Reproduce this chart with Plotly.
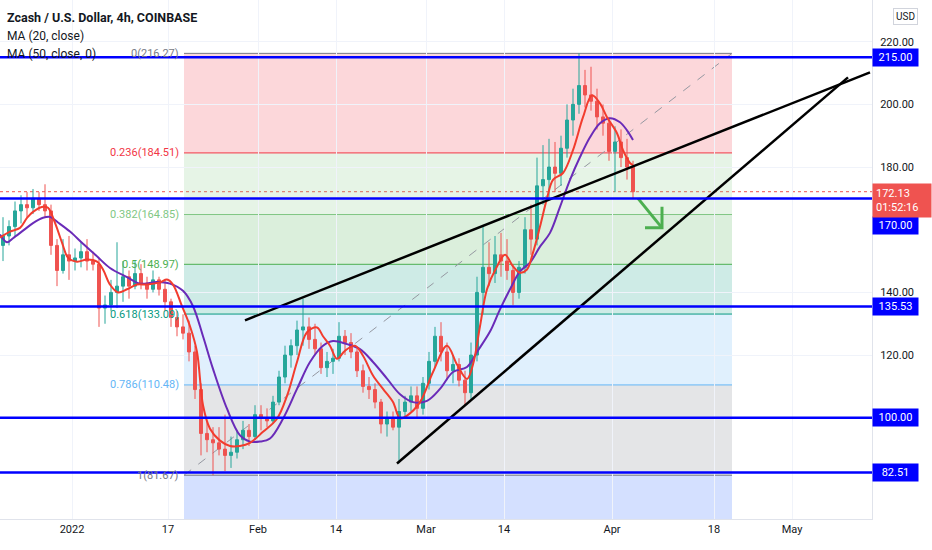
import plotly.graph_objects as go
import pandas as pd

# ZEC/USD, one candle per day (Dec 20 2021 -> Apr 4 2022)
candle_start = "2021-12-20 12:00"
opens = [155, 158, 161, 166, 168, 167, 170, 168, 166, 155, 147, 152,
         150, 151, 153, 150, 149, 135, 136, 140, 142, 145, 142, 146, 143, 141, 144, 141, 137, 132, 129, 127,
         121, 109, 95, 93, 92, 90, 88, 89, 93, 96, 94,
         101, 100, 99, 105, 113, 120, 123, 128, 129, 125, 122, 116, 118, 119, 126, 124, 121, 115, 110, 109,
         105, 98, 100, 97, 102, 105, 107, 103,
         111, 118, 126, 121, 115, 117, 112, 108, 120, 140, 148, 146, 152, 150, 147, 140, 148, 160, 157, 174,
         176, 180, 178, 186, 195, 200, 206, 203, 201, 196, 194,
         185, 188, 183, 180]
highs = [164, 163, 169, 171, 172, 173, 172, 174.5, 168, 157, 157, 158,
         154, 156, 157, 153, 151, 139, 144, 156, 150, 147, 150, 149, 145, 147, 145, 144, 138, 134, 133, 131,
         123, 111, 99, 97, 97, 101, 94, 96, 99, 98, 104,
         104, 103, 107, 115, 123, 125, 131, 138, 132, 130, 124, 121, 122, 130.5, 128, 127, 122, 117, 113, 111,
         106, 102, 102, 106, 107, 110, 110, 113,
         121, 129, 130.5, 124, 120, 119, 115, 124, 145, 161, 156, 158, 159, 157, 149, 150, 164, 168, 183, 187,
         189, 188, 190, 200, 205, 216.27, 211, 212, 205, 200, 196,
         193, 192, 189, 182]
lows = [150, 155, 158, 162, 164, 165, 166, 164, 152, 142, 146, 144,
        147, 148, 147, 147, 129, 130, 134, 135, 137, 138, 141, 141, 138, 140, 139, 134, 129, 126, 125, 118,
        106, 88, 89, 81.67, 88, 83, 84, 87, 90, 91, 93,
        96, 97, 98, 104, 111, 116, 120, 123, 122, 120, 114, 113, 114, 118, 120, 119, 113, 108, 106, 103,
        95, 94, 96, 85.5, 100, 102, 100, 101,
        109, 116, 118, 112, 111, 110, 104, 106, 118, 133, 142, 143, 145, 144, 136, 138, 146, 152, 155, 168,
        170, 172, 174, 183, 190, 197, 199, 198, 192, 190, 182,
        172, 180, 176, 170]
closes = [158, 161, 166, 168, 167, 170, 168, 166, 155, 147, 152, 150,
          151, 153, 150, 149, 135, 136, 140, 142, 145, 142, 146, 143, 141, 144, 141, 137, 132, 129, 127, 121,
          109, 95, 93, 92, 90, 88, 89, 93, 96, 94, 101,
          100, 99, 105, 113, 120, 123, 128, 129, 125, 122, 116, 118, 119, 126, 124, 121, 115, 110, 109, 105,
          98, 100, 97, 102, 105, 107, 103, 111,
          118, 126, 121, 115, 117, 112, 108, 120, 140, 148, 146, 152, 150, 147, 140, 148, 160, 157, 174, 176,
          180, 178, 186, 195, 200, 206, 203, 201, 196, 194, 185,
          188, 183, 180, 172.13]

# MA (20, close) - red line, sampled along the picture
ma20_dates = ["2021-12-20 00:00", "2021-12-21 16:00", "2021-12-23 08:00", "2021-12-24 12:00", "2021-12-25 12:00",
              "2021-12-27 04:00", "2021-12-28 00:00", "2021-12-29 04:00", "2021-12-30 08:00", "2021-12-31 08:00",
              "2022-01-01 20:00", "2022-01-03 12:00", "2022-01-05 04:00", "2022-01-06 04:00", "2022-01-07 08:00",
              "2022-01-08 16:00", "2022-01-10 04:00", "2022-01-11 20:00", "2022-01-13 12:00", "2022-01-15 16:00",
              "2022-01-16 20:00", "2022-01-17 20:00", "2022-01-19 08:00", "2022-01-20 16:00", "2022-01-21 20:00",
              "2022-01-22 20:00", "2022-01-24 00:00", "2022-01-25 16:00", "2022-01-27 08:00", "2022-01-29 00:00",
              "2022-01-30 16:00", "2022-02-01 20:00", "2022-02-04 04:00", "2022-02-05 20:00", "2022-02-07 12:00",
              "2022-02-09 04:00", "2022-02-10 20:00", "2022-02-11 20:00", "2022-02-13 00:00", "2022-02-14 04:00",
              "2022-02-15 12:00", "2022-02-17 04:00", "2022-02-18 12:00", "2022-02-20 04:00", "2022-02-21 20:00",
              "2022-02-23 12:00", "2022-02-24 16:00", "2022-02-25 20:00", "2022-02-28 00:00", "2022-03-02 04:00",
              "2022-03-04 12:00", "2022-03-06 04:00", "2022-03-07 20:00", "2022-03-08 20:00", "2022-03-10 00:00",
              "2022-03-11 04:00", "2022-03-12 20:00", "2022-03-14 04:00", "2022-03-15 12:00", "2022-03-16 16:00",
              "2022-03-17 20:00", "2022-03-18 20:00", "2022-03-20 00:00", "2022-03-21 04:00", "2022-03-22 04:00",
              "2022-03-23 20:00", "2022-03-25 12:00", "2022-03-27 04:00", "2022-03-28 16:00", "2022-03-30 00:00",
              "2022-03-31 04:00", "2022-04-01 20:00", "2022-04-02 20:00", "2022-04-04 00:00", "2022-04-04 12:00"]
ma20_vals = [157.5, 159.4, 160.6, 163.8, 165.7, 167.3, 167, 162.2, 155.9, 151.1,
             149.8, 150.5, 149.8, 147.3, 142.5, 140, 141, 142.5, 142.5, 143.2,
             144.1, 142.5, 135.6, 129.2, 121, 104, 96.5, 92.7, 91, 91,
             92, 95.5, 99.7, 107, 117.8, 127.3, 128.8, 126, 123, 118.8,
             121.4, 123, 119.8, 113.5, 109.2, 105, 99.8, 100.7, 105, 114.6,
             123, 117, 112.4, 117, 129.2, 141, 148.3, 152, 148.3, 146.3,
             147.3, 152.7, 161, 170, 175.9, 178.1, 185.4, 195.9, 202.9, 200.3,
             195.9, 190.8, 185.4, 181.3, 180.6]

# MA (50, close, 0) - purple line
ma50_dates = ["2021-12-20 00:00", "2021-12-21 04:00", "2021-12-22 04:00", "2021-12-23 20:00", "2021-12-25 12:00",
              "2021-12-27 04:00", "2021-12-28 08:00", "2021-12-29 16:00", "2021-12-31 16:00", "2022-01-02 20:00",
              "2022-01-05 04:00", "2022-01-07 08:00", "2022-01-10 04:00", "2022-01-12 08:00", "2022-01-15 04:00",
              "2022-01-17 08:00", "2022-01-19 12:00", "2022-01-21 04:00", "2022-01-22 20:00", "2022-01-24 12:00",
              "2022-01-26 20:00", "2022-01-29 00:00", "2022-01-30 16:00", "2022-02-01 08:00", "2022-02-03 00:00",
              "2022-02-05 04:00", "2022-02-07 12:00", "2022-02-09 16:00", "2022-02-11 20:00", "2022-02-13 12:00",
              "2022-02-15 20:00", "2022-02-18 00:00", "2022-02-20 04:00", "2022-02-22 12:00", "2022-02-24 16:00",
              "2022-02-26 20:00", "2022-03-01 04:00", "2022-03-03 08:00", "2022-03-05 12:00", "2022-03-07 20:00",
              "2022-03-09 12:00", "2022-03-11 16:00", "2022-03-13 08:00", "2022-03-15 00:00", "2022-03-16 16:00",
              "2022-03-18 08:00", "2022-03-20 00:00", "2022-03-21 16:00", "2022-03-23 08:00", "2022-03-25 00:00",
              "2022-03-26 16:00", "2022-03-28 08:00", "2022-03-30 00:00", "2022-03-31 16:00", "2022-04-02 08:00",
              "2022-04-03 12:00", "2022-04-04 12:00"]
ma50_vals = [158.5, 156, 157.3, 159.7, 162.1, 163.8, 164.1, 162.3, 159.4, 155.5,
             151.5, 147.8, 144.9, 142.8, 143.3, 142.8, 140.5, 135.6, 126, 115.6,
             102.9, 94.4, 92.4, 92.4, 93.4, 99.7, 109.2, 117.8, 123, 124.5,
             123.5, 121.9, 117.8, 112.5, 107.5, 105, 105.4, 109.2, 114.6, 116.2,
             121, 127.5, 134.6, 141, 146.7, 149.5, 154.6, 159, 167.3, 175.9,
             183.2, 189.5, 194, 195.6, 194.3, 191.7, 188.6]

# fib retracement drawing
fib_ratios = ["0", "0.236", "0.382", "0.5", "0.618", "0.786", "1"]
fib_prices = [216.27, 184.51, 164.85, 148.97, 133.09, 110.48, 81.67]
fib_line_colors = ["#787b86", "#f23645", "#81c784", "#4caf50", "#089981", "#64b5f6", "#787b86"]
fib_fill_colors = ["rgba(242,54,69,0.2)", "rgba(129,199,132,0.2)", "rgba(76,175,80,0.2)",
                   "rgba(8,153,129,0.2)", "rgba(100,181,246,0.2)", "rgba(120,123,134,0.2)",
                   "rgba(41,98,255,0.2)"]
fib_start = "2022-01-19 16:00"
fib_end = "2022-04-21 00:00"

# horizontal levels (blue)
levels = [215, 170, 135.53, 100, 82.51]
last_price = 172.13
countdown = "01:52:16"

# black trend lines
trend_a_dates = ["2022-01-29 20:00", "2022-05-14 00:00"]
trend_a_prices = [131.1, 210.2]
trend_b_dates = ["2022-02-24 04:00", "2022-05-10 08:00"]
trend_b_prices = [85.4, 208.6]

# green arrow
arrow_dates = ["2022-04-05 08:00", "2022-04-09 08:00"]
arrow_prices = [170.0, 160.6]
arrow_head_dates = ["2022-04-06 12:00", "2022-04-09 08:00", "2022-04-09 08:00"]
arrow_head_prices = [160.6, 160.6, 167.3]

x_tick_vals = ["2022-01-01", "2022-01-17", "2022-02-01", "2022-02-14", "2022-03-01",
               "2022-03-14", "2022-04-01", "2022-04-18", "2022-05-01"]
x_tick_text = ["2022", "17", "Feb", "14", "Mar", "14", "Apr", "18", "May"]
y_tick_vals = [120, 140, 180, 200, 220]

font = "Roboto, Liberation Sans, sans-serif"
text_col = "#131722"

candle_dates = pd.date_range(candle_start, periods=len(closes), freq="D")

fig = go.Figure()

# fib zones + levels
shapes = []
for i in range(len(fib_prices)):
    if i < len(fib_prices) - 1:
        top, bot = fib_prices[i], fib_prices[i + 1]
    else:
        # 1.618 extension, runs off the bottom of the chart
        top = fib_prices[-1]
        bot = fib_prices[0] - 1.618 * (fib_prices[0] - fib_prices[-1])
    shapes.append(dict(type="rect", xref="x", yref="y", x0=fib_start, x1=fib_end, y0=bot, y1=top,
                       fillcolor=fib_fill_colors[i], line_width=0, layer="below"))
for p, c in zip(fib_prices, fib_line_colors):
    shapes.append(dict(type="line", xref="x", yref="y", x0=fib_start, x1=fib_end, y0=p, y1=p,
                       line=dict(color=c, width=1), layer="below"))
shapes.append(dict(type="line", xref="x", yref="y", x0=fib_start, x1=fib_end,
                   y0=fib_prices[-1], y1=fib_prices[0],
                   line=dict(color="#9598a1", width=1, dash="dash"), layer="below"))
# last price dotted line
shapes.append(dict(type="line", xref="paper", yref="y", x0=0, x1=1, y0=last_price, y1=last_price,
                   line=dict(color="#ef5350", width=1, dash="dot"), layer="below"))
# blue horizontal levels
for lv in levels:
    shapes.append(dict(type="line", xref="paper", yref="y", x0=0, x1=1, y0=lv, y1=lv,
                       line=dict(color="#0000ff", width=2.5), layer="above"))

fig.add_trace(go.Candlestick(
    x=candle_dates, open=opens, high=highs, low=lows, close=closes,
    increasing=dict(line=dict(color="#26a69a", width=1), fillcolor="#26a69a"),
    decreasing=dict(line=dict(color="#ef5350", width=1), fillcolor="#ef5350"),
    whiskerwidth=0, showlegend=False, hoverinfo="skip"))

fig.add_trace(go.Scatter(x=ma50_dates, y=ma50_vals, mode="lines",
                         line=dict(color="#6a2bb8", width=2, shape="spline"), hoverinfo="skip"))
fig.add_trace(go.Scatter(x=ma20_dates, y=ma20_vals, mode="lines",
                         line=dict(color="#f23c2e", width=2, shape="spline"), hoverinfo="skip"))

for xs, ys in [(trend_a_dates, trend_a_prices), (trend_b_dates, trend_b_prices)]:
    fig.add_trace(go.Scatter(x=xs, y=ys, mode="lines", line=dict(color="#000000", width=2.5),
                             hoverinfo="skip"))

fig.add_trace(go.Scatter(x=arrow_dates, y=arrow_prices, mode="lines",
                         line=dict(color="#4caf50", width=3), hoverinfo="skip"))
fig.add_trace(go.Scatter(x=arrow_head_dates, y=arrow_head_prices, mode="lines",
                         line=dict(color="#4caf50", width=3), hoverinfo="skip"))

annotations = []
# header text
header = [("<b>Zcash / U.S. Dollar, 4h, COINBASE</b>", 0.967, 12.5),
          ("MA (20, close)", 0.931, 12),
          ("MA (50, close, 0)", 0.896, 12)]
for txt, yy, sz in header:
    annotations.append(dict(text=txt, xref="paper", yref="paper", x=0.006, y=yy,
                            xanchor="left", yanchor="middle", showarrow=False,
                            font=dict(family=font, size=sz, color=text_col)))

# fib labels
for r, p, c in zip(fib_ratios, fib_prices, fib_line_colors):
    annotations.append(dict(text=f"{r}({p:.2f})", xref="x", yref="y", x=fib_start, y=p,
                            xanchor="right", yanchor="middle", xshift=-3, showarrow=False,
                            font=dict(family=font, size=11, color=c)))

# price scale labels
for lv in levels:
    shift = -27 if lv == 170 else 0
    annotations.append(dict(text=f"{lv:.2f}", xref="paper", yref="y", x=1, y=lv, yshift=shift,
                            xanchor="left", yanchor="middle", showarrow=False, width=41,
                            bgcolor="#0000ff", borderpad=2,
                            font=dict(family=font, size=11, color="white")))
annotations.append(dict(text=f"{last_price:.2f}<br>{countdown}", xref="paper", yref="y", x=1, y=last_price,
                        yshift=9, xanchor="left", yanchor="top", showarrow=False, width=52,
                        bgcolor="#ef5350", borderpad=3, align="left",
                        font=dict(family=font, size=11, color="white")))
annotations.append(dict(text="USD", xref="paper", yref="paper", x=1, y=0.968, xshift=21,
                        xanchor="left", yanchor="middle", showarrow=False,
                        bgcolor="white", bordercolor="#d1d4dc", borderwidth=1, borderpad=2,
                        font=dict(family=font, size=10, color=text_col)))

fig.update_layout(
    width=932, height=550,
    margin=dict(l=0, r=60, t=0, b=31),
    paper_bgcolor="white", plot_bgcolor="white",
    showlegend=False,
    shapes=shapes, annotations=annotations,
    font=dict(family=font, size=11, color=text_col),
    xaxis=dict(range=["2021-12-20 00:00", "2022-05-14 08:00"], rangeslider=dict(visible=False),
               tickvals=x_tick_vals, ticktext=x_tick_text, showgrid=True, gridcolor="#f0f3fa",
               showline=True, linecolor="#e0e3eb", ticks="", zeroline=False,
               tickfont=dict(size=11, color=text_col)),
    yaxis=dict(range=[67.7, 233.3], side="right", tickvals=y_tick_vals, tickformat=".2f",
               showgrid=True, gridcolor="#f0f3fa", showline=True, linecolor="#e0e3eb",
               ticks="", zeroline=False, ticklabelstandoff=5,
               tickfont=dict(size=11, color=text_col)),
)

# page has a default 8px body margin, drop it so the chart sits at the window corner
fig.write_html("out.html", config={"displayModeBar": False},
               post_script="document.body.style.margin='0';")
